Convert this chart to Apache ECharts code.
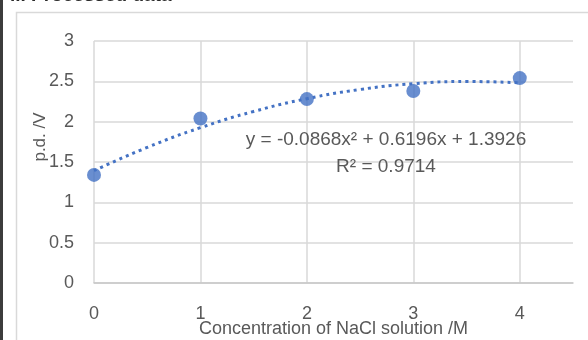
<!DOCTYPE html>
<html>
<head>
<meta charset="utf-8">
<script src="https://cdn.jsdelivr.net/npm/echarts@6/dist/echarts.min.js"></script>
<style>
html,body{margin:0;padding:0;background:#fff;}
#c{width:588px;height:340px;}
</style>
</head>
<body>
<div id="c"></div>
<script>
// Data
var concentrations = [0, 1, 2, 3, 4];
var pdValues = [1.34, 2.04, 2.28, 2.38, 2.54];
// Polynomial trendline (order 2) sampled along x, as shown in reference
var trendX = [0, 0.5, 1, 1.5, 2, 2.5, 3, 3.5, 4];
var trendY = [1.3926, 1.6807, 1.9254, 2.1267, 2.2846, 2.3991, 2.4702, 2.4979, 2.4822];
var equationText = 'y = -0.0868x² + 0.6196x + 1.3926';
var r2Text = 'R² = 0.9714';
var xTitle = 'Concentration of NaCl solution /M';
var yTitle = 'p.d. /V';
var headingText = 'ii. Processed data';

var FONT = 'Liberation Sans';
var TXT = '#595959';
var GRID = '#d9d9d9';
var BLUE = '#4472c4';

var chart = echarts.init(document.getElementById('c'), null, {renderer: 'canvas'});
chart.setOption({
  animation: false,
  backgroundColor: '#fff',
  grid: {left: 94, right: 15, top: 41, bottom: 57, containLabel: false, outerBoundsMode: 'none'},
  xAxis: {
    type: 'value', min: 0, max: 4.5, interval: 1,
    axisLine: {show: true, lineStyle: {color: '#c8c8c8', width: 1.5}},
    axisTick: {show: false},
    axisLabel: {color: TXT, fontFamily: FONT, fontSize: 18, margin: 22, showMaxLabel: false},
    splitLine: {show: true, showMaxLine: false, lineStyle: {color: GRID, width: 1.5}},
    name: xTitle, nameLocation: 'middle', nameGap: 37, nameMoveOverlap: false,
    nameTextStyle: {color: TXT, fontFamily: FONT, fontSize: 18}
  },
  yAxis: {
    type: 'value', min: 0, max: 3, interval: 0.5,
    axisLine: {show: false},
    axisTick: {show: false},
    axisLabel: {color: TXT, fontFamily: FONT, fontSize: 18, margin: 20},
    splitLine: {show: true, lineStyle: {color: GRID, width: 1.5}}
  },
  graphic: [
    {type: 'rect', shape: {x: 0, y: 0, width: 3, height: 340}, style: {fill: '#3c3c3c'}, silent: true},
    {type: 'rect', shape: {x: 16.5, y: 12.5, width: 600, height: 400}, style: {fill: 'none', stroke: '#d9d9d9', lineWidth: 1.5}, silent: true, z: -1},
    {type: 'text', x: 10, y: 5, style: {text: headingText, fill: '#2b2b2b', font: 'bold 19px "Liberation Sans"', textVerticalAlign: 'bottom'}},
    {type: 'text', x: 40, y: 137, rotation: Math.PI / 2, style: {text: yTitle, fill: TXT, font: '17px "Liberation Sans"', textAlign: 'center', textVerticalAlign: 'middle'}, z: 10},
    {type: 'text', x: 386, y: 140, style: {text: equationText, fill: TXT, font: '19px "Liberation Sans"', textAlign: 'center', textVerticalAlign: 'middle'}, z: 10},
    {type: 'text', x: 386, y: 167, style: {text: r2Text, fill: TXT, font: '19px "Liberation Sans"', textAlign: 'center', textVerticalAlign: 'middle'}, z: 10}
  ],
  series: [
    {
      type: 'line', smooth: true, showSymbol: false, silent: true,
      data: trendX.map(function (x, i) { return [x, trendY[i]]; }),
      lineStyle: {color: BLUE, width: 3, type: [3, 4]},
      z: 2
    },
    {
      type: 'scatter', symbolSize: 14,
      data: concentrations.map(function (x, i) { return [x, pdValues[i]]; }),
      itemStyle: {color: BLUE},
      z: 3
    }
  ]
});
</script>
</body>
</html>
